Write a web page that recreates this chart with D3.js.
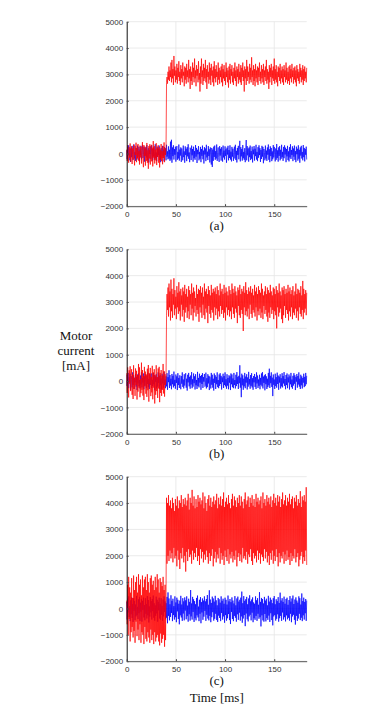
<!DOCTYPE html>
<html><head><meta charset="utf-8">
<script src="https://cdn.jsdelivr.net/npm/d3@7"></script>
<style>body{margin:0;background:#fff}svg{display:block}</style>
</head><body>
<svg id="chart" width="382" height="710"></svg>
<script>
const sampleStepMs = 0.5;
const xDomain = [0, 183];
const yDomain = [-2000, 5000];
const xTicks = [0, 50, 100, 150];
const yTicks = [-2000, -1000, 0, 1000, 2000, 3000, 4000, 5000];
const panelLabels = ["(a)", "(b)", "(c)"];
const yAxisTitle = ["Motor", "current", "[mA]"];
const xAxisTitle = "Time [ms]";

const blueA = [
120,-210,260,-80,310,-260,40,180,-320,220,
-140,290,-30,-250,160,340,-190,60,-280,210,
90,-230,300,-120,20,250,-300,150,-60,280,
-220,110,330,-170,-40,260,-310,190,-90,240,
-150,320,-260,70,200,-340,130,-20,270,-200,
60,310,-280,170,-110,230,-240,90,350,-180,
40,-290,260,-130,180,-60,300,-250,120,-330,
210,20,-170,290,-90,150,-300,240,-40,190,
-260,330,-120,80,-220,270,-190,140,-280,450,
-230,520,-350,230,-100,310,-230,170,-50,260,
-310,120,280,-240,60,-190,340,-270,150,-80,
230,-320,190,10,-260,300,-140,80,-350,270,
-60,180,-290,240,-110,350,-200,40,-330,220,
130,-250,300,-70,170,-310,260,-180,90,-240,
320,-120,210,-360,140,-30,280,-260,60,-200,
250,-330,170,-90,300,-220,110,-380,240,-40,
190,-290,330,-150,70,-250,280,-100,160,-340,
230,-60,-420,210,-510,150,-280,260,-130,300,
-240,90,-190,340,-280,50,230,-160,-320,280,
-80,180,-270,240,20,-310,300,-150,110,-230,
270,-90,160,-350,220,-40,290,-260,130,-170,
310,-230,70,-300,250,-120,180,-280,40,260,
-190,330,-250,100,-340,210,-60,290,-220,150,
480,-300,240,-110,170,-270,320,-180,60,-240,
200,-330,120,510,-260,280,-70,190,-310,230,
-140,300,-250,90,-200,260,-340,150,-30,280,
-270,180,-100,330,-230,60,-290,240,-160,310,
-60,200,-320,130,-210,290,-120,250,-370,170,
40,-260,300,-190,110,-280,230,-50,340,-240,
160,-330,270,-100,210,-290,80,-220,320,-150,
250,-30,-300,190,-240,360,-170,120,-310,230,
-90,280,-260,140,-200,330,-140,60,-280,250,
-180,310,-40,220,-330,170,-110,290,-250,80,
-300,240,-150,350,-210,130,-60,270,-290,190,
-120,300,-240,90,-330,260,-30,180,-270,310,
-200,140,-350,230,-80,290,-190,60,-260,320,
-140,210,-300,170,-50,260,-230];

const redA_before = [
150,-280,320,-90,-350,240,-160,380,-310,60,
270,-400,190,-220,340,-130,-450,280,-60,410,
-330,210,-180,360,-270,90,-420,300,-150,250,
-380,140,430,-240,-520,320,-100,260,-460,190,
-280,400,-350,120,-580,280,-190,350,-420,80,
330,-300,220,-490,470,-160,280,-380,150,-260,
390,-440,200,-120,310,-350,240,-530,160,-220,
360,-290,90,-410,280,-170,420,-330,210,-60,
180];
const redA_after = [
2700,2900,2650,3100,2800,3300,2750,3150,2900,3450,
2700,3550,2850,3200,2600,3700,2950,3300,2700,3150,
2800,3400,2650,3250,2900,3500,2750,3100,2600,3350,
2850,3200,2700,3450,2950,3100,2550,3300,2800,3250,
2650,3400,2900,3150,2700,3550,2850,3200,2450,3300,
2750,3100,2600,3450,2900,3250,2700,3600,2850,3150,
2550,3350,2950,3200,2700,3500,2800,3050,2350,3300,
2650,3600,2900,3150,2600,3400,2750,3250,2850,3550,
2700,3200,2450,3350,2900,3100,2650,3450,2800,3250,
2600,3400,2950,3150,2700,3300,2550,3500,2850,3200,
2700,3350,2900,3100,2600,3450,2800,3250,2650,3150,
2900,3300,2700,3400,2550,3200,2850,3350,2750,3100,
2600,3450,2900,3250,2700,3150,2500,3300,2800,3400,
2650,3200,2950,3350,2700,3100,2600,3250,2850,3450,
2750,3150,2550,3300,2900,3200,2650,3400,2800,3100,
2700,3350,2600,3250,2900,3450,2750,3150,2350,3300,
2850,3200,2600,3550,2750,3300,2900,3100,2650,3400,
2800,3250,2700,3650,2900,3150,2600,3350,2750,3200,
2550,3400,2850,3150,2700,3300,2600,3250,2900,3450,
2750,3100,2650,3350,2850,3200,2700,3400,2600,3150,
2900,3300,2750,3550,2650,3200,2800,3100,2450,3350,
2700,3250,2900,3400,2600,3150,2850,3300,2750,3600,
2650,3200,2800,3350,2700,3100,2550,3300,2900,3250,
2750,3400,2650,3150,2850,3300,2700,3200,2600,3350,
2900,3150,2700,3450,2800,3250,2650,3100,2750,3300,
2600,3350,2850,3200,2700,3400,2900,3150,2650,3250,
2800,3300,2700,3150,2550,3350,2850,3200,2750,3100,
2650,3400,2900,3250,2700,3150,2800,3350,2600,3200,
2750,3300,2850,3100,2700,3250];

const blueB = [
-180,240,-60,310,-270,150,-20,280,-330,190,
70,-240,330,-150,220,-300,100,-50,270,-210,
160,-340,250,-90,300,-190,40,-280,210,-130,
340,-240,120,-60,290,-310,180,-170,260,-30,
-270,200,-110,320,-230,80,-300,270,-150,130,
290,-260,50,-190,310,-120,230,-350,170,-40,
260,-280,140,-210,330,-70,190,-300,240,-160,
100,-320,280,-90,210,-250,350,-140,60,-270,
180,-200,300,-330,150,-40,410,-260,230,-170,
90,-310,270,-120,200,-240,360,-180,50,-290,
250,-70,180,-340,300,-150,120,-260,220,-30,
-310,190,-100,330,-220,60,-280,260,-170,140,
300,-250,90,-360,240,-50,310,-200,160,-290,
210,-130,340,-270,70,-210,290,-80,180,-320,
260,-160,40,-300,350,-190,120,-240,280,-60,
190,-330,230,-110,300,-260,150,-20,270,-210,
-170,320,-280,110,-230,260,-90,200,-340,170,
50,-280,310,-140,240,-250,90,-360,290,-70,
220,-300,160,-120,330,-230,40,-270,250,-180,
300,-110,200,-320,140,-40,280,-260,190,-150,
330,-200,70,-290,260,-170,120,-310,220,-60,
180,-340,290,-120,250,-230,100,-270,310,-150,
40,-280,240,-190,340,-110,160,-300,200,-80,
600,-250,130,-610,280,-160,220,-330,90,-200,
310,-270,170,-60,260,-320,140,-210,350,-130,
80,-290,230,-180,300,-240,110,-330,190,-50,
270,-220,150,-300,330,-90,210,-260,60,-180,
240,-310,120,-140,290,-200,340,-280,170,-70,
220,-350,260,-120,180,-300,90,-230,310,-160,
470,-260,200,-80,330,-220,130,-570,250,-140,
60,-300,280,-190,150,-250,320,-110,210,-330,
170,-60,260,-280,110,-200,300,-240,190,-90,
340,-180,80,-310,230,-150,290,-270,140,-50,
250,-320,180,-120,310,-230,60,-290,200,-170,
300,-100,220,-340,150,-20,270,-250,190,-130,
330,-210,90,-300,240,-160,180,-280,120,-60,
280,-230,160,-190,310,-120,200];

const redB_before = [
300,-450,520,-200,-620,410,-100,560,-380,180,
450,-520,250,-680,600,-300,130,-560,480,-150,
390,-700,230,-400,650,-250,520,-610,80,-460,
700,-330,420,-550,190,-720,540,-200,360,-480,
250,-600,470,-350,610,-780,300,-120,500,-570,
160,-430,580,-690,330,-250,450,-850,220,-520,
600,-380,150,-640,480,-280,540,-800,310,-450,
420,-560,200,-330,650,-470,380,-590,260,-150,
100];
const redB_after = [
2500,3300,2700,3550,2450,3700,2800,3400,2300,3850,
2650,3500,2400,3300,2900,3900,2500,3450,2750,3200,
2350,3600,2800,3350,2550,3750,2650,3400,2300,3500,
2900,3250,2450,3550,2700,3400,2250,3650,2600,3300,
2800,3500,2400,3200,2650,3600,2350,3450,2900,3300,
2500,3700,2750,3350,2300,3550,2600,3400,2850,3150,
2450,3650,2700,3300,2550,3500,2250,3450,2800,3600,
2600,3350,2400,3550,2900,3200,2500,3700,2350,3400,
2750,3500,2600,3300,2200,3600,2850,3450,2550,3250,
2400,3650,2700,3350,2600,3500,2300,3400,2800,3550,
2500,3300,2750,3600,2350,3450,2650,3250,2450,3700,
2850,3400,2550,3500,2700,3300,2400,3650,2600,3350,
2300,3550,2800,3400,2500,3250,2700,3600,2450,3450,
2650,3300,2350,3700,2800,3500,2550,3350,2400,3600,
2750,3400,2600,3250,2200,3550,2850,3450,2500,3650,
2400,3300,2700,3500,2550,3400,1900,3600,2800,3350,
2500,3750,2650,3450,2450,3300,2750,3550,2350,3400,
2900,3600,2550,3350,2400,3500,2700,3250,2600,3650,
2450,3400,2800,3550,2300,3300,2650,3600,2500,3450,
2750,3350,2400,3700,2600,3500,2350,3250,2850,3400,
2550,3600,2700,3300,2450,3550,2250,3450,2600,3350,
2400,3650,2800,3400,2550,3250,2700,3550,2350,3500,
2650,3300,2500,3600,2000,3450,2800,3350,2450,3700,
2600,3400,2750,3250,2350,3550,2200,3450,2500,3600,
2850,3300,2400,3500,2700,3350,2550,3650,2300,3400,
2650,3550,2450,3300,2800,3450,2350,3600,2600,3250,
2500,3400,2750,3700,2400,3300,2650,3500,2300,3450,
2800,3350,2550,3600,2450,3250,2700,3800,2350,3500,
2600,3300,2750,3450,2500,3350];

const blueC = [
250,-420,380,-150,460,-330,90,-480,310,-220,
420,-360,170,-510,390,-90,280,-440,150,-300,
480,-250,60,-400,350,-180,440,-470,220,-120,
360,-500,290,-60,410,-340,130,-450,390,-200,
170,-380,470,-260,320,-530,80,-310,430,-150,
280,-420,360,-100,490,-350,200,-460,120,-280,
450,-190,330,-500,250,-70,410,-380,180,-430,
390,-240,100,-470,340,-300,460,-130,270,-410,
200,-350,440,-560,610,-280,380,-450,160,-320,
500,-170,290,-480,370,-250,90,-420,460,-330,
230,-520,410,-110,330,-400,180,-600,300,-260,
480,-340,150,-470,390,-190,270,-450,420,-80,
310,-410,460,-290,110,-500,370,-220,250,-460,
700,-300,190,-420,440,-130,350,-510,280,-370,
160,-450,400,-260,490,-340,70,-480,330,-200,
430,-560,240,-150,380,-430,300,-310,460,-90,
270,-470,360,-240,510,-380,140,-450,690,-280,
340,-520,210,-330,450,-140,380,-460,260,-390,
480,-200,310,-440,120,-510,400,-270,350,-360,
220,-480,460,-170,290,-420,370,-300,180,-540,
410,-250,330,-460,150,-370,490,-210,270,-440,
360,-590,240,-130,420,-400,300,-480,190,-280,
470,-350,120,-500,380,-220,450,-430,260,-160,
330,-460,410,-300,640,-540,200,-380,470,-250,
290,-670,350,-190,440,-410,160,-490,380,-300,
500,-240,270,-450,340,-160,420,-520,230,-370,
180,-430,460,-280,310,-470,390,-200,140,-390,
620,-330,250,-680,400,-260,360,-450,190,-500,
440,-210,300,-490,370,-360,120,-430,480,-270,
260,-510,410,-180,330,-440,200,-640,390,-300,
470,-250,160,-460,350,-390,280,-220,430,-500,
210,-370,600,-280,300,-470,390,-150,250,-420,
450,-330,180,-490,360,-260,410,-410,140,-350,
320,-460,470,-200,260,-520,380,-300,490,-240,
170,-430,340,-610,420,-280,300,-470,220,-380,
460,-200,390,-440,150,-350,570,-480,280,-260,
410,-420,250,-180,360,-470,300];

const redC_before = [
300,-600,900,-1000,1200,-400,800,-1250,600,-900,
1150,-700,400,-1100,1250,-850,700,-1300,1000,-500,
1200,-1050,600,-800,1300,-1200,900,-600,1100,-1300,
500,-900,1250,-1000,800,-1350,1100,-700,1200,-1150,
700,-1250,1300,-900,1000,-1100,600,-1300,1150,-800,
1250,-1200,900,-1000,1050,-1350,700,-900,1200,-1250,
800,-1100,1300,-1000,1100,-1250,600,-1400,1150,-950,
1000,-1300,850,-1150,1200,-1000,700,-1450,900,-1200,
600];
const redC_after = [
4200,1700,4000,2000,4300,1800,3900,2200,4100,1900,
3800,2100,4200,1750,4000,2300,3700,1900,4150,2000,
3900,1600,4250,2200,3800,1850,4100,1500,4000,2100,
4300,1900,3850,2300,4150,1750,3950,2000,4200,1400,
3900,2150,4100,1800,4350,2250,3750,1950,4200,2050,
4000,1700,4500,2200,3900,1850,4250,2100,3800,1950,
4150,2300,3850,1800,4300,2000,4050,1650,4200,2250,
3950,1900,4100,2150,4400,1750,3800,2050,4250,1850,
4000,2200,3700,1950,4150,1700,4300,2100,3900,1800,
4200,2000,3850,2250,4050,1600,4250,1900,3950,2150,
4100,1750,4350,2050,3800,1900,4200,2300,3950,1700,
4250,2100,3900,1850,4150,2000,4400,1650,3850,2200,
4050,1950,4200,1800,3950,2250,4300,1700,4000,2050,
3800,1900,4150,2150,4350,1750,3900,2000,4250,1850,
4100,2200,3850,1600,4200,1950,4000,2100,4300,1800,
3900,2050,4250,1750,4050,2300,3800,1900,4150,2000,
4400,1850,3950,2150,4100,1700,4250,2050,3850,1950,
4200,2250,4000,1800,4300,1650,3900,2100,4150,1900,
3850,2000,4350,1750,4050,2200,4200,1850,3950,2100,
4100,1700,4250,2050,3800,1950,4400,1800,4000,2250,
4150,1900,3900,2150,4300,1750,4050,2000,4200,1650,
3950,2100,4250,1850,3850,2200,4100,1700,4350,2000,
4000,1800,4200,2250,3900,1950,4300,1600,4050,2100,
4250,1750,3850,2000,4150,1900,4400,2150,3950,1700,
4100,2050,4300,1800,3900,2200,4200,1850,4050,1950,
4350,1650,3950,2100,4150,1800,4250,2000,3800,1900,
4200,2250,4050,1750,4300,1950,3900,2100,4150,1600,
4000,1850,4450,2000,3850,2150,4250,1700,4100,1950,
4300,1800,4050,2200,4600,1650];

const panels = [
  {label: panelLabels[0], blue: blueA, red: redA_before.concat(redA_after), top: 21.7},
  {label: panelLabels[1], blue: blueB, red: redB_before.concat(redB_after), top: 249.3},
  {label: panelLabels[2], blue: blueC, red: redC_before.concat(redC_after), top: 476.7}
];

const serif = "'Liberation Serif', 'Times New Roman', serif";
const sans = "'Liberation Sans', Arial, sans-serif";
const svg = d3.select("#chart");
const left = 126.7, plotW = 180, plotH = 184.5;
const x = d3.scaleLinear().domain(xDomain).range([0, plotW]);
const y = d3.scaleLinear().domain(yDomain).range([plotH, 0]);
const line = d3.line().x((d, i) => x(i * sampleStepMs)).y(d => y(d));

panels.forEach(p => {
  const g = svg.append("g").attr("transform", `translate(${left},${p.top})`);
  g.append("g").selectAll("line").data(yTicks).join("line")
    .attr("x1", 0).attr("x2", plotW).attr("y1", d => y(d)).attr("y2", d => y(d))
    .attr("stroke", "#e4e4e4").attr("stroke-width", 0.8);
  g.append("g").selectAll("line").data(xTicks.filter(d => d > 0)).join("line")
    .attr("y1", 0).attr("y2", plotH).attr("x1", d => x(d)).attr("x2", d => x(d))
    .attr("stroke", "#e4e4e4").attr("stroke-width", 0.8);
  g.append("path").datum(p.blue).attr("d", line)
    .attr("fill", "none").attr("stroke", "#0000ff").attr("stroke-width", 0.7);
  g.append("path").datum(p.red).attr("d", line)
    .attr("fill", "none").attr("stroke", "#ff0000").attr("stroke-width", 0.7);
  const ya = g.append("g").call(d3.axisLeft(y).tickValues(yTicks).tickSizeInner(-2).tickSizeOuter(0).tickPadding(3.5).tickFormat(d3.format("d")));
  ya.select(".domain").attr("stroke", "#111").attr("stroke-width", 1);
  ya.selectAll(".tick line").attr("stroke", "#444");
  ya.selectAll("text").attr("font-family", sans).attr("font-size", 8).attr("fill", "#333");
  const xa = g.append("g").attr("transform", `translate(0,${plotH})`)
    .call(d3.axisBottom(x).tickValues(xTicks).tickSizeInner(-2).tickSizeOuter(0).tickPadding(5.2));
  xa.select(".domain").attr("stroke", "#555").attr("stroke-width", 1);
  xa.selectAll(".tick line").attr("stroke", "#444");
  xa.selectAll("text").attr("font-family", sans).attr("font-size", 8).attr("fill", "#333");
  g.append("text").attr("x", plotW / 2).attr("y", plotH + 24)
    .attr("text-anchor", "middle").attr("font-family", serif)
    .attr("font-size", 13).attr("fill", "#111").text(p.label);
});

const yt = svg.append("text").attr("text-anchor", "middle")
  .attr("font-family", serif).attr("font-size", 13).attr("fill", "#111");
yAxisTitle.forEach((t, i) => {
  yt.append("tspan").attr("x", 76).attr("y", 340 + i * 15).text(t);
});
svg.append("text").attr("x", left + plotW / 2).attr("y", 702).attr("text-anchor", "middle")
  .attr("font-family", serif).attr("font-size", 13).attr("fill", "#111")
  .text(xAxisTitle);
</script>
</body></html>
